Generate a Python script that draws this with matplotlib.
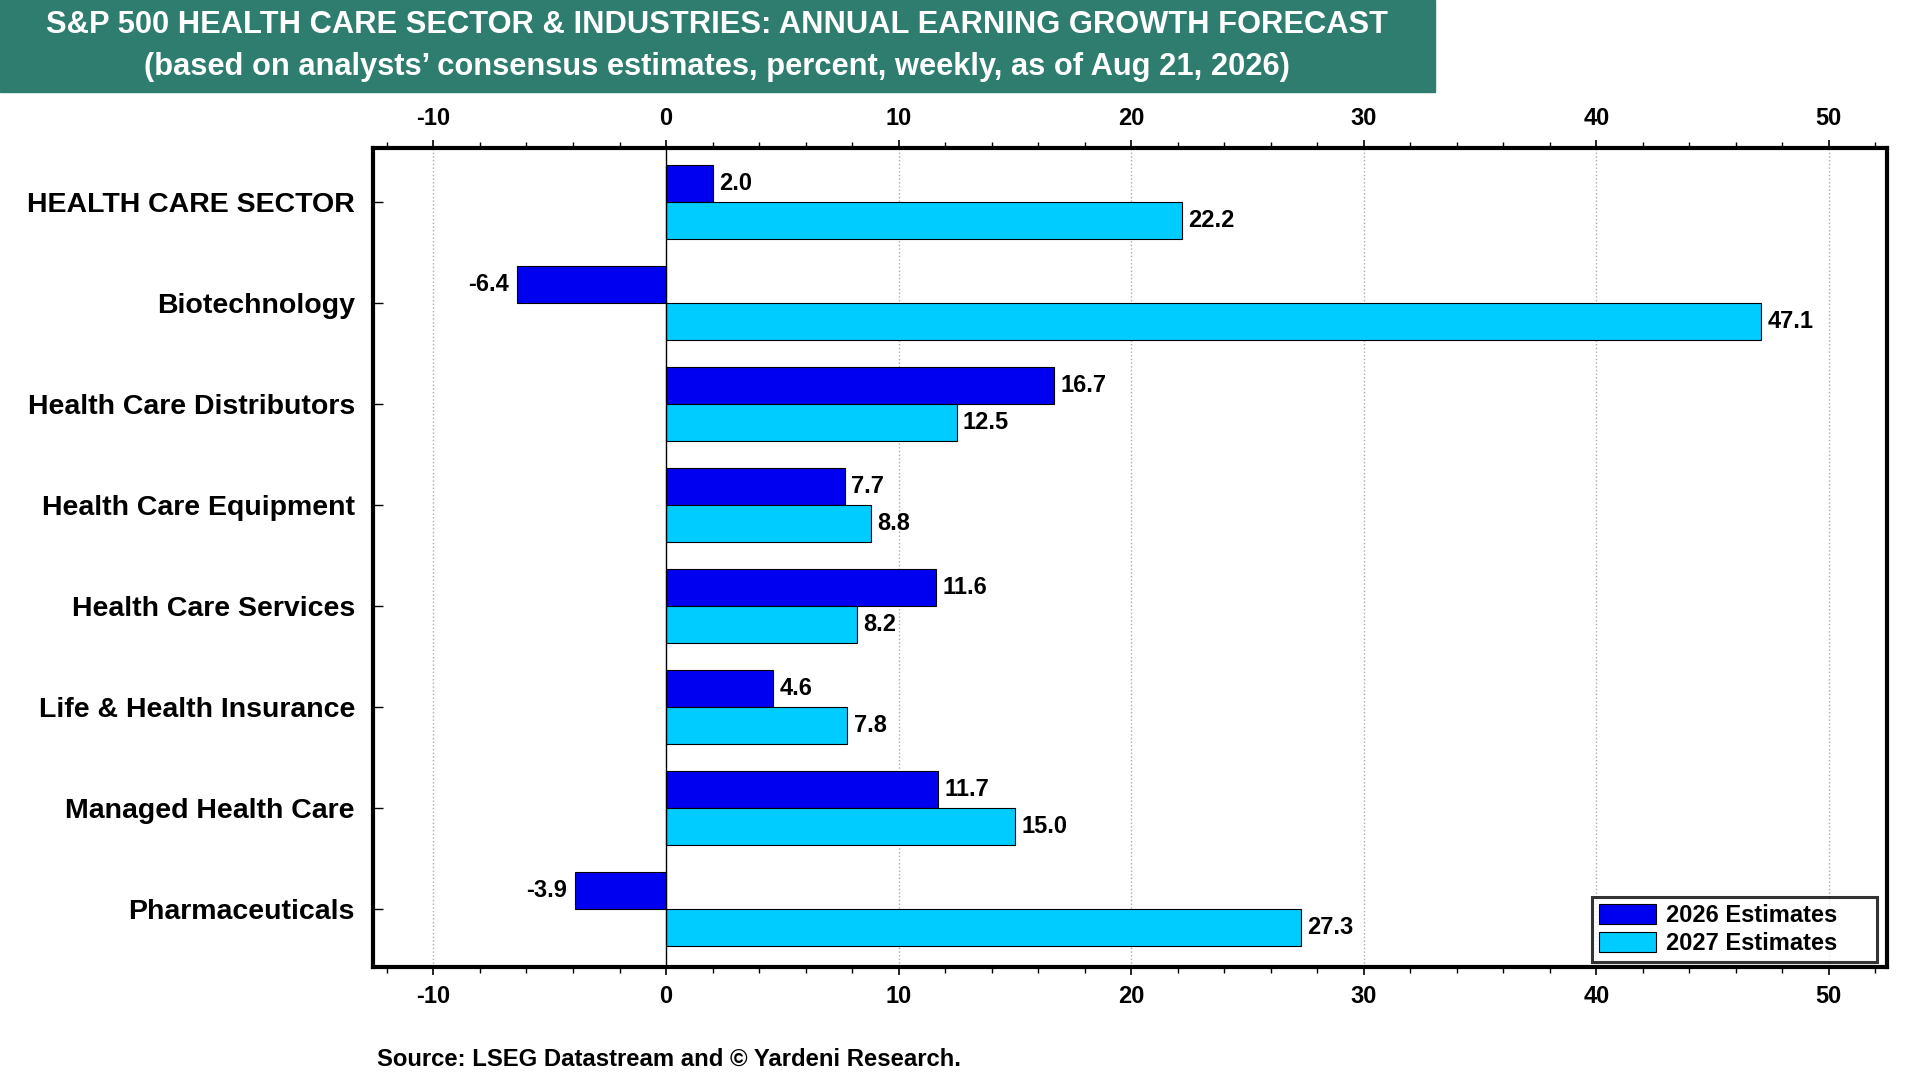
import numpy as np
import matplotlib
matplotlib.use('Agg')
from matplotlib import pyplot as plt
from matplotlib.patches import Rectangle
from matplotlib.ticker import MultipleLocator

plt.rcParams['font.family'] = ['Liberation Sans', 'DejaVu Sans']
plt.rcParams['font.weight'] = 'bold'

categories = ['HEALTH CARE SECTOR', 'Biotechnology', 'Health Care Distributors',
              'Health Care Equipment', 'Health Care Services', 'Life & Health Insurance',
              'Managed Health Care', 'Pharmaceuticals']
est_2026 = [2.0, -6.4, 16.7, 7.7, 11.6, 4.6, 11.7, -3.9]
est_2027 = [22.2, 47.1, 12.5, 8.8, 8.2, 7.8, 15.0, 27.3]
series_names = ['2026 Estimates', '2027 Estimates']
x_ticks = [-10, 0, 10, 20, 30, 40, 50]

blue = '#0000F0'
cyan = '#00CCFF'

fig = plt.figure(figsize=(19.2, 10.8), dpi=100)

# title banner
fig.patches.append(Rectangle((0, 1 - 92 / 1080), 1435 / 1920, 92 / 1080,
                             transform=fig.transFigure, color='#2E7D6F', zorder=0))
fig.text(717 / 1920, 1 - 25 / 1080,
         'S&P 500 HEALTH CARE SECTOR & INDUSTRIES: ANNUAL EARNING GROWTH FORECAST',
         color='white', fontsize=22.2, fontweight='bold', ha='center', va='center')
fig.text(717 / 1920, 1 - 67 / 1080,
         '(based on analysts\u2019 consensus estimates, percent, weekly, as of Aug 21, 2026)',
         color='white', fontsize=22.2, fontweight='bold', ha='center', va='center')

ax = fig.add_axes([373 / 1920, 1 - 967 / 1080, (1887 - 373) / 1920, (967 - 148) / 1080])

y = np.arange(len(categories))
h = 0.367
ax.barh(y - h / 2, est_2026, height=h, color=blue, edgecolor='black', linewidth=0.8,
        label=series_names[0], zorder=3)
ax.barh(y + h / 2, est_2027, height=h, color=cyan, edgecolor='black', linewidth=0.8,
        label=series_names[1], zorder=3)

for yy, v in zip(y - h / 2, est_2026):
    ax.annotate(f'{v:.1f}', (v, yy), xytext=(4.5 if v >= 0 else -6, 0), textcoords='offset points',
                ha='left' if v >= 0 else 'right', va='center', fontsize=17, fontweight='bold')
for yy, v in zip(y + h / 2, est_2027):
    ax.annotate(f'{v:.1f}', (v, yy), xytext=(4.5 if v >= 0 else -6, 0), textcoords='offset points',
                ha='left' if v >= 0 else 'right', va='center', fontsize=17, fontweight='bold')

ax.set_xlim(-12.6, 52.5)
ax.set_ylim(7.575, -0.535)
ax.set_yticks(y)
ax.set_yticklabels(categories, fontsize=20.5, fontweight='bold')
ax.set_xticks(x_ticks)
ax.set_xticklabels([str(t) for t in x_ticks], fontsize=17, fontweight='bold')
ax.xaxis.set_minor_locator(MultipleLocator(2))
ax.tick_params(axis='x', which='both', direction='out', top=True, labeltop=True,
               bottom=True, labelbottom=True, pad=7)
ax.tick_params(axis='x', which='major', length=6, width=1.2)
ax.tick_params(axis='x', which='minor', length=4, width=1.0)
ax.tick_params(axis='y', which='major', direction='in', length=7, width=1.0, pad=13, left=True)

for t in x_ticks:
    if t != 0:
        ax.axvline(t, color='#AAAAAA', linestyle=':', linewidth=1.0, zorder=1)
ax.axvline(0, color='black', linewidth=1.0, zorder=4)

for s in ax.spines.values():
    s.set_linewidth(3)

leg = ax.legend(loc='lower right', bbox_to_anchor=(1 - 10 / 1514, 5 / 819), fontsize=17,
                frameon=True, fancybox=False, edgecolor='black', handlelength=2.4,
                handleheight=0.9, borderpad=0.3, labelspacing=0.2, handletextpad=0.4,
                borderaxespad=0)
leg.get_frame().set_linewidth(2.2)
leg._legend_box.align = 'left'
for t in leg.get_texts():
    t.set_fontweight('bold')
# reference box has extra room to the right of the labels
leg._legend_box.sep = 0
for t in leg.get_texts():
    t.set_text(t.get_text() + '     ')

fig.text(377 / 1920, 1 - 1059 / 1080, 'Source: LSEG Datastream and \u00a9 Yardeni Research.',
         fontsize=17.2, fontweight='bold', ha='left', va='center')

fig.savefig('out.png', dpi=100)
